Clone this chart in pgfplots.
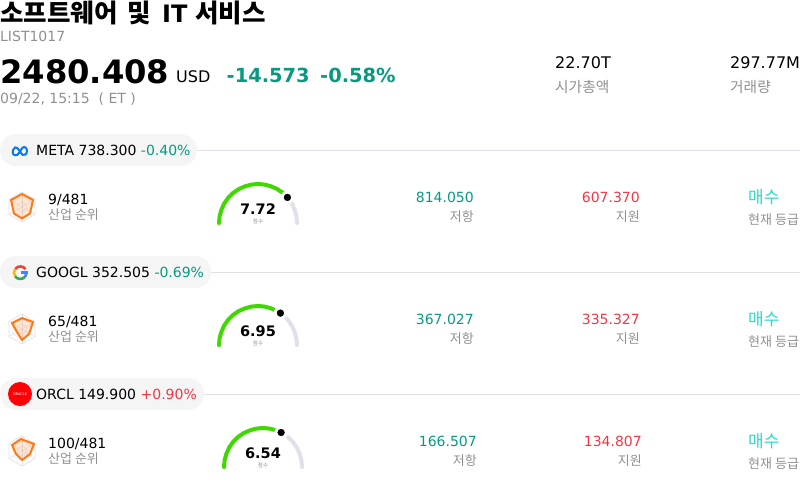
\documentclass[border=0pt]{standalone}
\usepackage{pgfplots}
\pgfplotsset{compat=1.18}
\usepackage{fontspec}
\setmainfont{DejaVu Sans}
\newfontfamily\kr{Noto Sans CJK KR}
\definecolor{upg}{HTML}{089981}
\definecolor{dnr}{HTML}{F23645}
\definecolor{buy}{HTML}{2BD9C8}
\definecolor{gry}{HTML}{909090}
\definecolor{rule}{HTML}{E0E0EA}
\definecolor{pill}{HTML}{F5F5F5}
\definecolor{gaugeg}{HTML}{3FD800}
\definecolor{orng}{HTML}{FF7A14}
\newcommand\T[6]{\node[anchor=base #1,inner sep=0pt,text=#4,font=\fontsize{#5}{#5}\selectfont] at (axis cs:#2,#3) {#6};}
\newcommand\TC[5]{\node[anchor=base,inner sep=0pt,text=#3,font=\fontsize{#4}{#4}\selectfont] at (axis cs:#1,#2) {#5};}
\newcommand\Radar[2]{%
 \addplot[rule,line width=0.7pt] coordinates {(22,#1-15)(35,#1-7.5)(35,#1+7.5)(22,#1+15)(9,#1+7.5)(9,#1-7.5)(22,#1-15)};
 \addplot[rule,line width=0.5pt] coordinates {(22,#1-10)(31,#1-5)(31,#1+5)(22,#1+10)(13,#1+5)(13,#1-5)(22,#1-10)};
 \addplot[rule,line width=0.5pt] coordinates {(22,#1-5)(26.5,#1-2.5)(26.5,#1+2.5)(22,#1+5)(17.5,#1+2.5)(17.5,#1-2.5)(22,#1-5)};
 \addplot[rule,line width=0.5pt] coordinates {(22,#1-15)(22,#1+15)};
 \addplot[rule,line width=0.5pt] coordinates {(9,#1-7.5)(35,#1+7.5)};
 \addplot[rule,line width=0.5pt] coordinates {(35,#1-7.5)(9,#1+7.5)};
 \addplot[orng,line width=2pt,fill=orng,fill opacity=0.18,draw opacity=1,line join=round] coordinates {#2} -- cycle;
}
\begin{document}
\begin{tikzpicture}
\path[use as bounding box] (0,0) rectangle (800pt,488pt);
\begin{axis}[scale only axis,width=800pt,height=488pt,xmin=0,xmax=800,ymin=0,ymax=488,y dir=reverse,hide axis,clip=false]
% header
\node[anchor=base west,inner sep=0pt,font=\fontsize{25.5}{26}\selectfont\bfseries\kr] at (axis cs:0,22) {소프트웨어};
\node[anchor=base west,inner sep=0pt,font=\fontsize{25.5}{26}\selectfont\bfseries\kr] at (axis cs:127.5,22) {및};
\node[anchor=base west,inner sep=0pt,font=\fontsize{24}{24}\selectfont\bfseries] at (axis cs:162,22) {IT};
\node[anchor=base west,inner sep=0pt,font=\fontsize{25.5}{26}\selectfont\bfseries\kr] at (axis cs:195,22) {서비스};
\T{west}{0}{41}{gry}{14}{LIST1017}
\node[anchor=base west,inner sep=0pt,font=\fontsize{32.2}{33}\selectfont\bfseries] at (axis cs:0,83) {2480.408};
\T{west}{176}{82}{black}{16}{USD}
\node[anchor=base west,inner sep=0pt,text=upg,font=\fontsize{19.4}{20}\selectfont\bfseries] at (axis cs:226.5,82) {-14.573};
\node[anchor=base west,inner sep=0pt,text=upg,font=\fontsize{19.4}{20}\selectfont\bfseries] at (axis cs:320,82) {-0.58\%};
\T{west}{0}{103}{gry}{14}{09/22, 15:15 \ ( ET )}
\T{west}{555}{68}{black}{16}{22.70T}
\T{west}{555}{92}{gry}{14.7}{\kr 시가총액}
\T{west}{730}{68}{black}{16}{297.77M}
\T{west}{730}{92}{gry}{14.7}{\kr 거래량}
% separators
\addplot[rule,line width=1pt] coordinates {(190,150.5)(800,150.5)};
\addplot[rule,line width=1pt] coordinates {(205,272.5)(800,272.5)};
\addplot[rule,line width=1pt] coordinates {(198,394.5)(800,394.5)};
% pills
\fill[pill,rounded corners=15.9pt] (axis cs:0,134) rectangle (axis cs:197,166);
\fill[pill,rounded corners=15.9pt] (axis cs:0,256) rectangle (axis cs:211,288);
\fill[pill,rounded corners=15.9pt] (axis cs:0,378) rectangle (axis cs:204,410);
% Meta logo
\addplot[color={rgb,255:red,6;green,120;blue,240},line width=2pt,smooth,tension=0.7] coordinates {(12.8,153.5)(13,150)(15.2,147.4)(17.5,148.2)(20,151.5)(22.5,154.8)(25.4,154.6)(27,151)(25.4,147.4)(22.5,147.8)(20,151.5)(17.5,154.8)(14.7,155.2)(12.8,153.5)};
% Google logo
\draw[color={rgb,255:red,234;green,67;blue,53},line width=2.6pt] (axis cs:20.3,272.7) ++(145:6.3pt) arc[start angle=145,end angle=35,radius=6.3pt];
\draw[color={rgb,255:red,251;green,188;blue,5},line width=2.6pt] (axis cs:20.3,272.7) ++(215:6.3pt) arc[start angle=215,end angle=145,radius=6.3pt];
\draw[color={rgb,255:red,52;green,168;blue,83},line width=2.6pt] (axis cs:20.3,272.7) ++(320:6.3pt) arc[start angle=320,end angle=215,radius=6.3pt];
\draw[color={rgb,255:red,66;green,133;blue,244},line width=2.6pt] (axis cs:20.3,272.7) ++(360:6.3pt) arc[start angle=360,end angle=320,radius=6.3pt];
\fill[color={rgb,255:red,66;green,133;blue,244}] (axis cs:20.6,271.3) rectangle (axis cs:27.9,273.9);
% Oracle logo
\fill[color={rgb,255:red,255;green,0;blue,7}] (axis cs:20,394) circle[radius=12pt];
\TC{20}{395}{white}{3.5}{ORACLE}
% rows: pill text
\T{west}{36}{155}{black}{14}{META 738.300 \textcolor{upg}{-0.40\%}}
\T{west}{36}{277}{black}{14}{GOOGL 352.505 \textcolor{upg}{-0.69\%}}
\T{west}{36}{399}{black}{14}{ORCL 149.900 \textcolor{dnr}{+0.90\%}}
% radars
\Radar{207}{(22,194)(33,200)(30,213.5)(22,218.5)(14,213.5)(11,200)}
\Radar{329}{(22,318)(33,322)(29,334)(22,340)(17,332)(12,323)}
\Radar{451}{(21,439)(34,444)(30,454)(22,460)(16,454)(12,445)}
\T{west}{48}{204}{black}{14}{9/481}
\T{west}{48}{219}{gry}{13}{\kr 산업 순위}
\T{west}{48}{326}{black}{14}{65/481}
\T{west}{48}{341}{gry}{13}{\kr 산업 순위}
\T{west}{48}{448}{black}{14}{100/481}
\T{west}{48}{463}{gry}{13}{\kr 산업 순위}
% gauges
\addplot[rule,line width=4pt,line cap=round] coordinates {(287.4,197.4)(287.9,197.9)(291.8,203.5)(294.6,209.7)(296.4,216.2)(297,223)};
\addplot[gaugeg,line width=4pt,line cap=round] coordinates {(219,223)(219.6,216.2)(221.4,209.7)(224.2,203.5)(228.1,197.9)(232.9,193.1)(238.5,189.2)(244.7,186.4)(251.2,184.6)(258,184)(264.8,184.6)(271.3,186.4)(277.5,189.2)(283.1,193.1)(287.4,197.4)};
\addplot[only marks,mark=*,mark size=6.5pt,white] coordinates {(287.4,197.4)};
\addplot[only marks,mark=*,mark size=3.4pt,black] coordinates {(287.4,197.4)};
\addplot[rule,line width=4pt,line cap=round] coordinates {(280.4,313.1)(283.1,315.1)(287.9,319.9)(291.8,325.5)(294.6,331.7)(296.4,338.2)(297,345)};
\addplot[gaugeg,line width=4pt,line cap=round] coordinates {(219,345)(219.6,338.2)(221.4,331.7)(224.2,325.5)(228.1,319.9)(232.9,315.1)(238.5,311.2)(244.7,308.4)(251.2,306.6)(258,306)(264.8,306.6)(271.3,308.4)(277.5,311.2)(280.4,313.1)};
\addplot[only marks,mark=*,mark size=6.5pt,white] coordinates {(280.4,313.1)};
\addplot[only marks,mark=*,mark size=3.4pt,black] coordinates {(280.4,313.1)};
\addplot[rule,line width=4pt,line cap=round] coordinates {(281.1,432.5)(282.5,433.2)(288.1,437.1)(292.9,441.9)(296.8,447.5)(299.6,453.7)(301.4,460.2)(302,467)};
\addplot[gaugeg,line width=4pt,line cap=round] coordinates {(224,467)(224.6,460.2)(226.4,453.7)(229.2,447.5)(233.1,441.9)(237.9,437.1)(243.5,433.2)(249.7,430.4)(256.2,428.6)(263,428)(269.8,428.6)(276.3,430.4)(281.1,432.5)};
\addplot[only marks,mark=*,mark size=6.5pt,white] coordinates {(281.1,432.5)};
\addplot[only marks,mark=*,mark size=3.4pt,black] coordinates {(281.1,432.5)};
\node[anchor=base,inner sep=0pt,font=\fontsize{14.5}{15}\selectfont\bfseries] at (axis cs:258,214) {7.72};
\TC{258}{223}{gry}{5.5}{\kr 점수}
\node[anchor=base,inner sep=0pt,font=\fontsize{14.5}{15}\selectfont\bfseries] at (axis cs:258,336) {6.95};
\TC{258}{345}{gry}{5.5}{\kr 점수}
\node[anchor=base,inner sep=0pt,font=\fontsize{14.5}{15}\selectfont\bfseries] at (axis cs:263,458) {6.54};
\TC{263}{467}{gry}{5.5}{\kr 점수}
% resistance / support / grade
\T{east}{474}{202}{upg}{14}{814.050}
\T{east}{474}{221}{gry}{13}{\kr 저항}
\T{east}{640}{202}{dnr}{14}{607.370}
\T{east}{640}{221}{gry}{13}{\kr 지원}
\T{west}{748}{203}{buy}{17}{\kr 매수}
\T{west}{748}{224}{gry}{13}{\kr 현재 등급}
\T{east}{474}{324}{upg}{14}{367.027}
\T{east}{474}{343}{gry}{13}{\kr 저항}
\T{east}{640}{324}{dnr}{14}{335.327}
\T{east}{640}{343}{gry}{13}{\kr 지원}
\T{west}{748}{325}{buy}{17}{\kr 매수}
\T{west}{748}{346}{gry}{13}{\kr 현재 등급}
\T{east}{477}{446}{upg}{14}{166.507}
\T{east}{477}{465}{gry}{13}{\kr 저항}
\T{east}{642}{446}{dnr}{14}{134.807}
\T{east}{642}{465}{gry}{13}{\kr 지원}
\T{west}{748}{447}{buy}{17}{\kr 매수}
\T{west}{748}{468}{gry}{13}{\kr 현재 등급}
\end{axis}
\end{tikzpicture}
\end{document}
